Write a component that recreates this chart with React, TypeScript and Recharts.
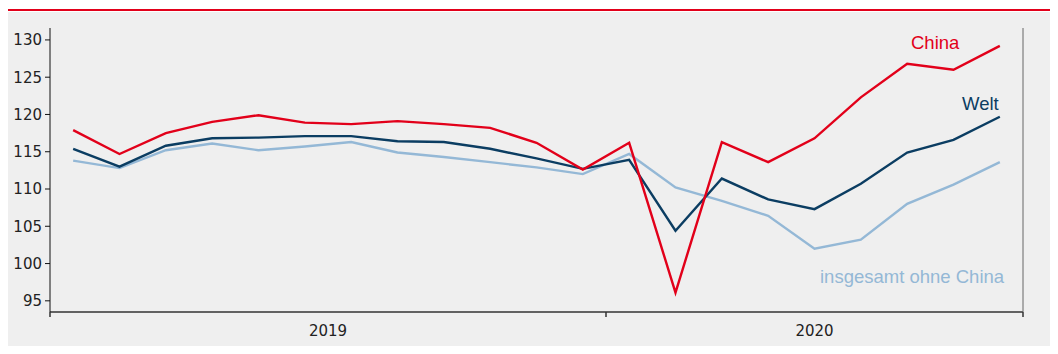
import React from 'react';
import { LineChart, Line, XAxis, YAxis } from 'recharts';

const months = [
  'Jan 19', 'Feb 19', 'Mär 19', 'Apr 19', 'Mai 19', 'Jun 19', 'Jul 19', 'Aug 19', 'Sep 19', 'Okt 19', 'Nov 19', 'Dez 19',
  'Jan 20', 'Feb 20', 'Mär 20', 'Apr 20', 'Mai 20', 'Jun 20', 'Jul 20', 'Aug 20', 'Sep 20'
];
const china = [117.9, 114.7, 117.5, 119.0, 119.9, 118.9, 118.7, 119.1, 118.7, 118.2, 116.2, 112.6, 116.2, 96.1, 116.3, 113.6, 116.8, 122.3, 126.8, 126.0, 129.2];
const welt = [115.4, 113.0, 115.8, 116.8, 116.9, 117.1, 117.1, 116.4, 116.3, 115.4, 114.1, 112.7, 113.9, 104.4, 111.4, 108.6, 107.3, 110.7, 114.9, 116.6, 119.7];
const ohneChina = [113.8, 112.8, 115.2, 116.1, 115.2, 115.7, 116.3, 114.9, 114.3, 113.6, 112.9, 112.0, 114.7, 110.2, 108.4, 106.4, 102.0, 103.2, 108.0, 110.6, 113.6];

const yTicks = [95, 100, 105, 110, 115, 120, 125, 130];
// year boundaries (tick marks) and year labels, in months since Jan 2019
const yearBounds = [0, 12, 21];
const yearLabels: Record<number, string> = { 6: '2019', 16.5: '2020' };

const RED = '#e2001a';
const NAVY = '#0b3d62';
const LIGHT = '#94b8d6';

const data = months.map((m, i) => ({
  month: m,
  x: i + 0.5,
  china: china[i],
  welt: welt[i],
  ohne: ohneChina[i],
}));

const tickFont = { fontFamily: 'DejaVu Sans', fontSize: 15, fill: '#222' };

const YearTick = (props: any) => {
  const { x, y, payload } = props;
  const v = payload.value;
  if (yearBounds.includes(v)) {
    return <line x1={x} x2={x} y1={y} y2={y + 5} stroke="#333" strokeWidth={1.5} />;
  }
  return (
    <text x={x} y={y + 24} textAnchor="middle" {...tickFont}>
      {yearLabels[v]}
    </text>
  );
};

const labelStyle: React.CSSProperties = {
  position: 'absolute',
  fontFamily: 'Liberation Sans, Arial, sans-serif',
  fontSize: 18.5,
  whiteSpace: 'nowrap',
  lineHeight: 1,
};

export default function App() {
  return (
    <div style={{ position: 'relative', width: 1058, height: 354, margin: -8, overflow: 'hidden', background: '#fff' }}>
      <div style={{ position: 'absolute', left: 0, top: 0 }}>
        <LineChart width={1058} height={354} data={data} margin={{ top: 28, right: 0, bottom: 0, left: 0 }}>
          <rect x={7} y={12} width={1051} height={342} fill="#efefef" />
          <rect x={7} y={9} width={1051} height={2} fill={RED} />
          <text x={8} y={5} fill="#1a6fae" fontFamily="Liberation Sans, Arial, sans-serif" fontSize={17}>
            Container-Umschlag, Index: 2015 = 100
          </text>
          <XAxis
            dataKey="x"
            type="number"
            domain={[0, 21]}
            ticks={[0, 6, 12, 16.5, 21]}
            interval={0}
            height={42}
            tickLine={false}
            tickSize={0}
            tickMargin={0}
            tick={<YearTick />}
            stroke="#333"
            strokeWidth={1.5}
          />
          <YAxis
            yAxisId="left"
            domain={[93.5, 131.6]}
            ticks={yTicks}
            width={50}
            tick={tickFont}
            stroke="#111"
            tickSize={5}
            tickMargin={3}
          />
          <YAxis
            yAxisId="right"
            orientation="right"
            domain={[93.5, 131.6]}
            ticks={yTicks}
            width={35}
            tick={tickFont}
            stroke="#666"
            tickSize={5}
            tickMargin={3}
          />
          <Line yAxisId="left" dataKey="ohne" type="linear" stroke={LIGHT} strokeWidth={2.4} dot={false} isAnimationActive={false} />
          <Line yAxisId="left" dataKey="welt" type="linear" stroke={NAVY} strokeWidth={2.4} dot={false} isAnimationActive={false} />
          <Line yAxisId="left" dataKey="china" type="linear" stroke={RED} strokeWidth={2.4} dot={false} isAnimationActive={false} />
        </LineChart>
      </div>
      <div style={{ ...labelStyle, left: 911, top: 34, color: RED }}>China</div>
      <div style={{ ...labelStyle, left: 962, top: 95, color: NAVY }}>Welt</div>
      <div style={{ ...labelStyle, left: 820, top: 268, color: LIGHT }}>insgesamt ohne China</div>
    </div>
  );
}
